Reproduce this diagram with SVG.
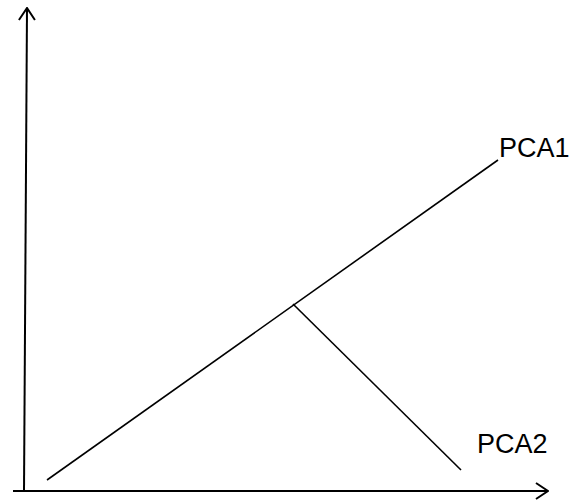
<svg xmlns="http://www.w3.org/2000/svg" width="572" height="501" viewBox="0 0 572 501">
<style>
.ax{stroke:#000;stroke-width:2;fill:none}
.ln{stroke:#000;stroke-width:1.6;fill:none}
.lbl{font-family:"Liberation Sans",Arial,sans-serif;font-size:27px;fill:#000}
</style>
<defs>
<marker id="arr" viewBox="0 0 14 18" refX="13" refY="9" markerWidth="14" markerHeight="18" markerUnits="userSpaceOnUse" orient="auto">
<path d="M1,1 L13,9 L1,17" fill="none" stroke="#000" stroke-width="2"/>
</marker>
</defs>
<rect width="572" height="501" fill="#fff"/>
<g id="connectors">
<line class="ax" x1="24" y1="492" x2="27" y2="8" marker-end="url(#arr)"/>
<line class="ax" x1="13" y1="491" x2="548" y2="491" marker-end="url(#arr)"/>
<line class="ln" x1="47" y1="480" x2="498" y2="160"/>
<line class="ln" x1="293" y1="304" x2="461" y2="470"/>
</g>
<g id="pca1"><text class="lbl" x="499" y="157">PCA1</text></g>
<g id="pca2"><text class="lbl" x="477" y="453">PCA2</text></g>
</svg>
